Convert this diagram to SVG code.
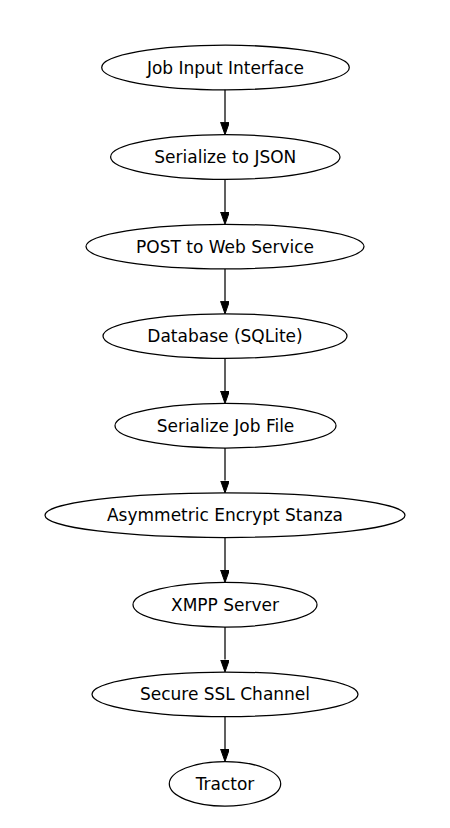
<svg xmlns="http://www.w3.org/2000/svg" width="450" height="828" viewBox="0 0 450 828">
<style>
.n ellipse{fill:#fff;stroke:#000;stroke-width:1.25}
.n text{font-family:"DejaVu Sans",sans-serif;font-size:17px;fill:#000;text-anchor:middle}
.e path{fill:none;stroke:#000;stroke-width:1.25}
</style>
<defs>
<marker id="ah" markerUnits="userSpaceOnUse" markerWidth="13" markerHeight="10" refX="0" refY="4.4" orient="auto">
<path d="M0,0 L12.4,4.4 L0,8.8 z" fill="#000" stroke="#000" stroke-width="1"/>
</marker>
</defs>
<rect width="450" height="828" fill="#fff"/>
<g id="node1" class="n"><ellipse cx="225.5" cy="67.5" rx="123.8" ry="22.3"/><text x="225.5" y="73.5">Job Input Interface</text></g>
<g id="node2" class="n"><ellipse cx="225.3" cy="157" rx="114.7" ry="22.3"/><text x="225.3" y="163">Serialize to JSON</text></g>
<g id="node3" class="n"><ellipse cx="225" cy="246.6" rx="139" ry="22.3"/><text x="225" y="252.6">POST to Web Service</text></g>
<g id="node4" class="n"><ellipse cx="225" cy="336.1" rx="122" ry="22.3"/><text x="225" y="342.1">Database (SQLite)</text></g>
<g id="node5" class="n"><ellipse cx="225.5" cy="425.7" rx="110.5" ry="22.3"/><text x="225.5" y="431.7">Serialize Job File</text></g>
<g id="node6" class="n"><ellipse cx="225" cy="515.2" rx="180" ry="22.3"/><text x="225" y="521.2">Asymmetric Encrypt Stanza</text></g>
<g id="node7" class="n"><ellipse cx="225" cy="604.7" rx="92" ry="22.3"/><text x="225" y="610.7">XMPP Server</text></g>
<g id="node8" class="n"><ellipse cx="225" cy="694.3" rx="133" ry="22.3"/><text x="225" y="700.3">Secure SSL Channel</text></g>
<g id="node9" class="n"><ellipse cx="225" cy="783.8" rx="55.7" ry="22.3"/><text x="225" y="789.8">Tractor</text></g>
<g id="edges" class="e">
<path d="M225,89.8 V122.3" marker-end="url(#ah)"/>
<path d="M225,179.3 V211.9" marker-end="url(#ah)"/>
<path d="M225,268.9 V301.4" marker-end="url(#ah)"/>
<path d="M225,358.4 V391.0" marker-end="url(#ah)"/>
<path d="M225,448.0 V480.5" marker-end="url(#ah)"/>
<path d="M225,537.5 V570.0" marker-end="url(#ah)"/>
<path d="M225,627.0 V659.6" marker-end="url(#ah)"/>
<path d="M225,716.6 V749.1" marker-end="url(#ah)"/>
</g>
</svg>
